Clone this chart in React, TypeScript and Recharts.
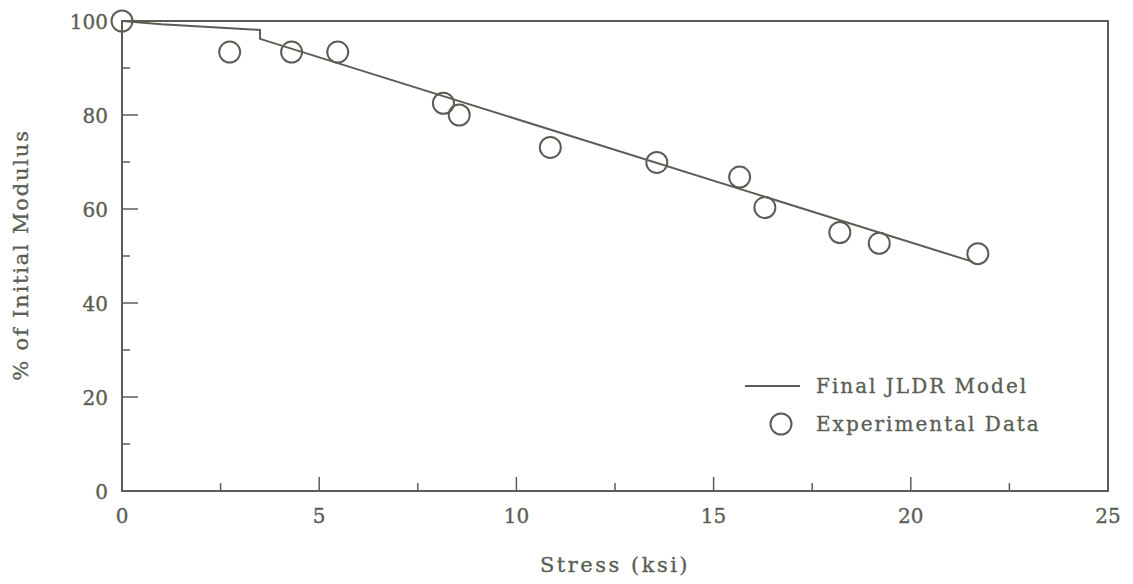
import { ComposedChart, XAxis, YAxis, Line, Scatter, ReferenceArea } from 'recharts';

const INK = '#5a5f55';
const FONT = '"DejaVu Serif", serif';

// Final JLDR model curve (stress ksi, % of initial modulus)
const modelStress = [0, 1, 3.5, 3.5, 21.56];
const modelModulus = [100, 99.3, 98.1, 96.2, 48.8];

// Experimental data points
const expStress = [0, 2.73, 4.3, 5.47, 8.15, 8.55, 10.86, 13.56, 15.66, 16.3, 18.2, 19.2, 21.7];
const expModulus = [100, 93.4, 93.4, 93.4, 82.5, 80.0, 73.1, 69.9, 66.8, 60.3, 55.0, 52.7, 50.5];

const xTicks = [0, 2.5, 5, 7.5, 10, 12.5, 15, 17.5, 20, 22.5, 25];
const yTicks = [0, 10, 20, 30, 40, 50, 60, 70, 80, 90, 100];

const modelData = modelStress.map((x, i) => ({ x, y: modelModulus[i] }));
const expData = expStress.map((x, i) => ({ x, y: expModulus[i] }));

// slight stroke so the serif text reads as heavy as the scanned original
const textStyle = { fill: INK, stroke: INK, strokeWidth: 0.35, fontFamily: FONT };

const XTick = (props: any) => {
  const { x, y, payload } = props;
  const major = payload.value % 5 === 0;
  return (
    <g>
      <line x1={x} x2={x} y1={y} y2={y - (major ? 14 : 8)} stroke={INK} strokeWidth={1.5} />
      {major && (
        <text x={x} y={y + 32} textAnchor="middle" fontSize={20} {...textStyle}>
          {payload.value}
        </text>
      )}
    </g>
  );
};

const YTick = (props: any) => {
  const { x, y, payload } = props;
  const major = payload.value % 20 === 0;
  return (
    <g>
      <line x1={x} x2={x + (major ? 16 : 8)} y1={y} y2={y} stroke={INK} strokeWidth={1.5} />
      {major && (
        <text x={x - 14} y={y + 8} textAnchor="end" fontSize={20} {...textStyle}>
          {payload.value}
        </text>
      )}
    </g>
  );
};

const Ring = (props: any) => {
  const { cx, cy } = props;
  return <circle cx={cx} cy={cy} r={10.5} fill="none" stroke={INK} strokeWidth={2} />;
};

const LegendBox = () => (
  <svg width={360} height={80} style={{ position: 'absolute', left: 740, top: 370 }}>
    <line x1={5} x2={60} y1={16} y2={16} stroke={INK} strokeWidth={2} />
    <text x={76} y={23} fontSize={20} letterSpacing={2} {...textStyle}>
      Final JLDR Model
    </text>
    <circle cx={41} cy={54} r={10.5} fill="none" stroke={INK} strokeWidth={2} />
    <text x={76} y={61} fontSize={20} letterSpacing={2} {...textStyle}>
      Experimental Data
    </text>
  </svg>
);

const App = () => {
  return (
    <div style={{ position: 'absolute', left: 0, top: 0, width: 1133, height: 584, background: '#fff' }}>
      <ComposedChart width={1133} height={584} margin={{ top: 21, right: 25, left: 0, bottom: 0 }}>
        <XAxis
          type="number"
          dataKey="x"
          domain={[0, 25]}
          ticks={xTicks}
          interval={0}
          tickSize={0}
          tickMargin={0}
          tickLine={false}
          tick={<XTick />}
          height={93}
          axisLine={{ stroke: INK, strokeWidth: 2 }}
          label={{
            content: () => (
              <text x={615} y={572} textAnchor="middle" fontSize={21} letterSpacing={2.5} {...textStyle}>
                Stress (ksi)
              </text>
            ),
          }}
        />
        <YAxis
          type="number"
          dataKey="y"
          domain={[0, 100]}
          ticks={yTicks}
          interval={0}
          tickSize={0}
          tickMargin={0}
          tickLine={false}
          tick={<YTick />}
          width={122}
          axisLine={{ stroke: INK, strokeWidth: 2 }}
          label={{
            content: () => (
              <text
                x={22}
                y={255}
                transform="rotate(-90 22 255)"
                textAnchor="middle"
                dominantBaseline="middle"
                fontSize={21}
                letterSpacing={1.8}
                {...textStyle}
              >
                % of Initial Modulus
              </text>
            ),
          }}
        />
        <ReferenceArea x1={0} x2={25} y1={0} y2={100} fill="none" stroke={INK} strokeWidth={2} ifOverflow="visible" />
        <Line
          data={modelData}
          dataKey="y"
          type="linear"
          stroke={INK}
          strokeWidth={2}
          dot={false}
          activeDot={false}
          isAnimationActive={false}
          name="Final JLDR Model"
        />
        <Scatter
          data={expData}
          dataKey="y"
          shape={<Ring />}
          isAnimationActive={false}
          name="Experimental Data"
        />
      </ComposedChart>
      <LegendBox />
    </div>
  );
};

export default App;
